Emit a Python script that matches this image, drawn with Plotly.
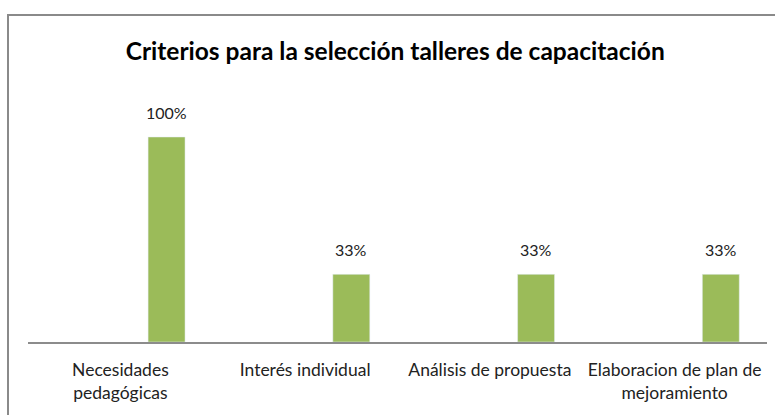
import plotly.graph_objects as go

categorias = [
    "Necesidades<br>pedagógicas",
    "Interés individual",
    "Análisis de propuesta",
    "Elaboracion de plan de<br>mejoramiento",
]
porcentajes = [1.00, 0.33, 0.33, 0.33]

FONT = "Lato, sans-serif"
VERDE = "#9BBB59"

fig = go.Figure(go.Bar(
    x=categorias,
    y=porcentajes,
    marker_color=VERDE,
    width=0.2,
    offset=0.15,
    hoverinfo="x+y",
))

# etiquetas de datos sobre cada barra
for cat, val in zip(categorias, porcentajes):
    fig.add_annotation(
        x=cat, y=val, text=f"{val:.0%}", showarrow=False,
        xshift=46, yshift=25, yanchor="middle",
        font=dict(family=FONT, size=16, color="#222222"),
    )

fig.update_layout(
    width=775,
    height=415,
    margin=dict(l=28, r=8, t=96, b=73, autoexpand=False),
    paper_bgcolor="white",
    plot_bgcolor="white",
    showlegend=False,
    font=dict(family=FONT, size=17.5, color="#222222"),
    title=dict(
        text="<b>Criterios para la selección talleres de capacitación</b>",
        x=0.51, xanchor="center", y=0.875, yanchor="middle",
        font=dict(family=FONT, size=24.5, color="black"),
    ),
    xaxis=dict(
        showline=True, linecolor="#8c8c8c", linewidth=1.5,
        ticks="", showgrid=False, tickfont=dict(size=17.5),
        automargin=False, ticklabelstandoff=11,
    ),
    yaxis=dict(
        range=[0, 1.2], visible=False, showgrid=False, zeroline=False,
        automargin=False,
    ),
)

# marco del gráfico (bordes superior e izquierdo visibles en la referencia)
fig.add_shape(
    type="rect", xref="paper", yref="paper",
    x0=(8 - 28) / 739, x1=1.1, y0=-0.5, y1=(342 - 15) / 246,
    line=dict(color="#8a8a8a", width=2), fillcolor="rgba(0,0,0,0)",
    layer="below",
)

fig.write_html(
    "out.html",
    config={"displayModeBar": False},
    post_script="document.body.style.margin='0';",
)
